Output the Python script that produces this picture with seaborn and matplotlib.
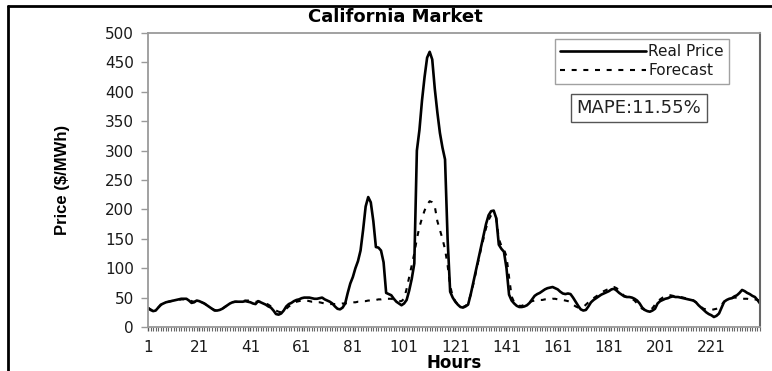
import numpy as np
import pandas as pd
import matplotlib
matplotlib.use("Agg")
import matplotlib.pyplot as plt
from matplotlib.lines import Line2D
import seaborn as sns

# ---------------- data ----------------
hours = list(range(1, 241))

real_price = [
    32, 29, 27, 28, 33, 38, 40, 42, 43, 44, 45, 46, 47, 48, 48, 48, 45, 41, 42, 45,
    44, 42, 40, 37, 34, 31, 28, 28, 29, 31, 34, 37, 40, 42, 43, 43, 43, 43, 44, 43,
    42, 40, 39, 44, 42, 40, 38, 35, 33, 28, 22, 21, 23, 28, 35, 39, 41, 44, 46, 47,
    49, 50, 50, 50, 49, 48, 48, 49, 50, 47, 45, 43, 40, 35, 31, 30, 33, 40, 58, 74,
    85, 100, 112, 130, 165, 205, 221, 212, 180, 136, 135, 130, 110, 58, 56, 54, 48, 43, 40, 37,
    40, 46, 62, 82, 108, 300, 335, 385, 425, 458, 468, 455, 405, 365, 330, 305, 285, 150, 60, 50,
    43, 38, 34, 33, 35, 38, 55, 75, 95, 115, 135, 155, 175, 190, 197, 198, 185, 140, 133, 128,
    100, 55, 45, 40, 36, 34, 34, 35, 37, 41, 47, 53, 56, 58, 61, 64, 66, 67, 68, 66,
    64, 60, 57, 56, 57, 56, 50, 43, 36, 30, 28, 29, 35, 42, 46, 49, 52, 55, 57, 59,
    61, 64, 65, 62, 58, 55, 52, 51, 51, 50, 48, 45, 40, 33, 29, 27, 26, 28, 31, 40,
    44, 46, 48, 49, 51, 52, 51, 51, 50, 49, 48, 47, 46, 45, 42, 37, 33, 29, 25, 22,
    20, 17, 19, 23, 33, 43, 46, 48, 49, 52, 54, 58, 63, 61, 58, 56, 53, 51, 46, 40,
]

forecast = [
    33, 30, 28, 29, 33, 37, 40, 42, 43, 44, 45, 46, 46, 47, 47, 47, 46, 44, 43, 44,
    43, 42, 40, 37, 34, 31, 29, 28, 29, 31, 34, 37, 40, 42, 43, 43, 44, 44, 45, 45,
    45, 44, 43, 43, 43, 42, 40, 38, 35, 32, 28, 26, 25, 27, 31, 35, 38, 41, 43, 44,
    45, 45, 45, 44, 43, 43, 42, 42, 41, 40, 40, 39, 39, 39, 39, 39, 40, 40, 41, 41,
    42, 42, 43, 43, 44, 44, 45, 45, 46, 46, 47, 47, 48, 48, 48, 48, 47, 46, 44, 44,
    48, 65, 85, 105, 125, 150, 170, 185, 198, 208, 214, 212, 205, 180, 165, 150, 132, 105, 70, 52,
    44, 38, 35, 34, 36, 40, 55, 72, 92, 112, 132, 150, 168, 182, 190, 192, 185, 150, 138, 132,
    120, 85, 52, 42, 38, 36, 36, 38, 40, 42, 44, 45, 46, 46, 46, 47, 47, 47, 48, 48,
    47, 47, 46, 45, 44, 42, 38, 35, 33, 33, 34, 38, 42, 46, 49, 52, 55, 58, 61, 63,
    65, 67, 68, 66, 62, 57, 53, 51, 50, 48, 45, 40, 35, 31, 29, 28, 29, 32, 38, 44,
    47, 50, 52, 54, 54, 53, 52, 52, 51, 50, 49, 48, 47, 45, 42, 38, 34, 31, 30, 29,
    29, 30, 31, 33, 38, 43, 46, 48, 49, 50, 50, 49, 48, 48, 48, 47, 48, 47, 46, 45,
]

y_ticks = [0, 50, 100, 150, 200, 250, 300, 350, 400, 450, 500]
x_tick_labels = [1, 21, 41, 61, 81, 101, 121, 141, 161, 181, 201, 221]
title = "California Market"
mape_text = "MAPE:11.55%"

df = pd.DataFrame({"Hours": hours, "Real Price": real_price, "Forecast": forecast})

# ---------------- style ----------------
sns.set_theme(style="white")
plt.rcParams["font.family"] = ["DejaVu Sans"]

W, H = 772, 371
fig = plt.figure(figsize=(W / 100, H / 100), dpi=100)
ax = fig.add_axes([148 / W, (H - 327) / H, (760 - 148) / W, (327 - 33) / H])

sns.lineplot(data=df, x="Hours", y="Real Price", ax=ax, color="black",
             linewidth=1.9, label="Real Price")
sns.lineplot(data=df, x="Hours", y="Forecast", ax=ax, color="black",
             linewidth=1.5, linestyle=(0, (2.4, 3.2)), label="Forecast")

ax.set_xlim(1, 240)
ax.set_ylim(0, 500)
ax.set_yticks(y_ticks)
ax.set_xticks(x_tick_labels)
ax.set_xticklabels([str(v) for v in x_tick_labels])
ax.set_xticks(hours, minor=True)

ax.tick_params(axis="y", which="major", direction="out", length=5, width=1,
               color="#999999", labelsize=11, labelcolor="#1a1a1a", pad=5, left=True)
ax.tick_params(axis="x", which="major", direction="out", length=3, width=1,
               color="#555555", labelsize=11, labelcolor="#1a1a1a", pad=6, bottom=True)
ax.tick_params(axis="x", which="minor", direction="out", length=3, width=0.8,
               color="#666666", bottom=True)

for side in ["left", "top", "bottom"]:
    ax.spines[side].set_color("#9a9a9a")
    ax.spines[side].set_linewidth(1.3)
ax.spines["right"].set_color("#666666")
ax.spines["right"].set_linewidth(1.5)

ax.set_xlabel("Hours", fontsize=12, fontweight="bold", color="black")
ax.xaxis.set_label_coords(0.5, -0.093)
ax.set_ylabel("Price ($/MWh)", fontsize=12, fontweight="bold",
              family=["Liberation Sans", "DejaVu Sans"], color="black")
ax.yaxis.set_label_coords(-0.128, 0.5)

fig.text(395 / W, 1 - 17 / H, title, ha="center", va="center",
         fontsize=13, fontweight="bold", color="black")

leg = ax.legend(loc="upper left", bbox_to_anchor=((555 - 148) / 612, (327 - 39) / 294),
                borderaxespad=0, frameon=True, fancybox=False, fontsize=11,
                handlelength=5.6, handletextpad=0.15, labelspacing=0.25,
                borderpad=0.35)
leg.get_frame().set_edgecolor("#8a8a8a")
leg.get_frame().set_linewidth(1.0)
for t in leg.get_texts():
    t.set_color("#1a1a1a")

ax.text((639 - 148) / 612, (327 - 108) / 294, mape_text, transform=ax.transAxes,
        ha="center", va="center", fontsize=13, color="#222222",
        bbox=dict(boxstyle="square,pad=0.3", fc="white", ec="#555555", lw=1.0))

# outer frame (top and left edges visible in the reference)
fig.add_artist(Line2D([7.5 / W, 7.5 / W], [0, 1 - 5.5 / H], transform=fig.transFigure,
                      color="black", lw=2))
fig.add_artist(Line2D([7.5 / W, 1], [1 - 5.5 / H, 1 - 5.5 / H], transform=fig.transFigure,
                      color="black", lw=2))

fig.savefig("out.png", dpi=100)
